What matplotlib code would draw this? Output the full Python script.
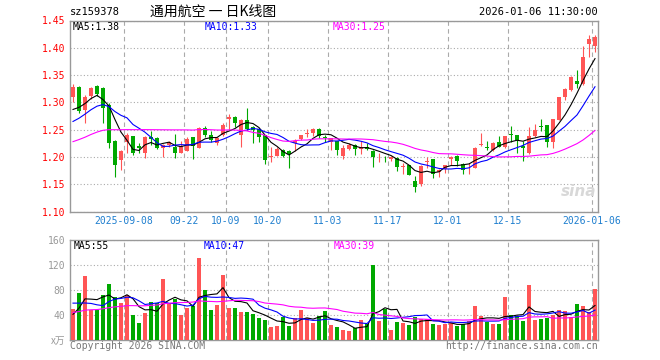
import matplotlib
matplotlib.use('Agg')
import matplotlib.pyplot as plt
import numpy as np
import pandas as pd

# ---------------- data ----------------
open_ = [1.310, 1.329, 1.286, 1.312, 1.330, 1.327, 1.295, 1.230, 1.194, 1.228,
         1.238, 1.220, 1.208, 1.236, 1.234, 1.217, 1.221, 1.219, 1.208, 1.211,
         1.236, 1.217, 1.253, 1.240, 1.225, 1.240, 1.269, 1.274, 1.241, 1.268,
         1.255, 1.252, 1.240, 1.1995, 1.202, 1.213, 1.211, 1.226, 1.232, 1.242,
         1.244, 1.251, 1.236, 1.228, 1.229, 1.202, 1.214, 1.222, 1.215, 1.218,
         1.211, 1.203, 1.195, 1.196, 1.198, 1.181, 1.185, 1.155, 1.150, 1.190,
         1.196, 1.173, 1.177, 1.197, 1.202, 1.187, 1.183, 1.180, 1.222, 1.218,
         1.212, 1.227, 1.218, 1.242, 1.240, 1.220, 1.208, 1.238, 1.256, 1.258,
         1.228, 1.268, 1.309, 1.322, 1.340, 1.333, 1.407, 1.403]
high = [1.334, 1.330, 1.313, 1.329, 1.331, 1.328, 1.299, 1.231, 1.213, 1.243,
        1.239, 1.225, 1.238, 1.248, 1.236, 1.223, 1.229, 1.242, 1.229, 1.236,
        1.237, 1.254, 1.257, 1.248, 1.236, 1.263, 1.279, 1.275, 1.269, 1.290,
        1.257, 1.253, 1.241, 1.219, 1.219, 1.214, 1.212, 1.233, 1.241, 1.252,
        1.253, 1.253, 1.241, 1.235, 1.230, 1.222, 1.225, 1.223, 1.229, 1.225,
        1.212, 1.208, 1.202, 1.202, 1.199, 1.188, 1.186, 1.165, 1.185, 1.199,
        1.197, 1.177, 1.186, 1.202, 1.203, 1.188, 1.188, 1.218, 1.243, 1.230,
        1.228, 1.238, 1.239, 1.257, 1.241, 1.230, 1.255, 1.261, 1.269, 1.259,
        1.270, 1.310, 1.326, 1.349, 1.360, 1.404, 1.423, 1.423]
low = [1.300, 1.281, 1.263, 1.307, 1.312, 1.263, 1.216, 1.164, 1.176, 1.207,
       1.203, 1.207, 1.198, 1.222, 1.215, 1.199, 1.219, 1.198, 1.207, 1.210,
       1.196, 1.216, 1.237, 1.228, 1.222, 1.238, 1.250, 1.255, 1.219, 1.249,
       1.226, 1.228, 1.187, 1.191, 1.201, 1.199, 1.179, 1.211, 1.231, 1.237,
       1.238, 1.234, 1.228, 1.213, 1.203, 1.197, 1.213, 1.203, 1.205, 1.213,
       1.182, 1.191, 1.190, 1.193, 1.175, 1.169, 1.166, 1.136, 1.147, 1.179,
       1.162, 1.163, 1.170, 1.185, 1.184, 1.168, 1.169, 1.179, 1.220, 1.212,
       1.210, 1.218, 1.216, 1.228, 1.207, 1.193, 1.206, 1.237, 1.248, 1.219,
       1.216, 1.267, 1.304, 1.321, 1.327, 1.332, 1.383, 1.393]
close = [1.329, 1.284, 1.310, 1.326, 1.315, 1.290, 1.226, 1.185, 1.211, 1.240,
         1.207, 1.216, 1.237, 1.232, 1.217, 1.222, 1.227, 1.208, 1.220, 1.233,
         1.220, 1.253, 1.240, 1.231, 1.234, 1.258, 1.274, 1.263, 1.268, 1.252,
         1.249, 1.237, 1.194, 1.202, 1.215, 1.202, 1.205, 1.229, 1.240, 1.244,
         1.252, 1.238, 1.235, 1.234, 1.213, 1.216, 1.222, 1.214, 1.219, 1.215,
         1.200, 1.204, 1.194, 1.200, 1.181, 1.183, 1.167, 1.144, 1.183, 1.192,
         1.169, 1.176, 1.185, 1.199, 1.192, 1.176, 1.184, 1.217, 1.224, 1.217,
         1.225, 1.219, 1.238, 1.240, 1.231, 1.216, 1.238, 1.249, 1.254, 1.228,
         1.269, 1.309, 1.325, 1.347, 1.334, 1.384, 1.416, 1.420]
volume = [50, 75, 102, 48, 48, 72, 90, 69, 59, 72,
          40, 27, 43, 61, 59, 98, 58, 66, 40, 51,
          54, 131, 80, 48, 56, 104, 51, 51, 45, 45,
          42, 35, 32, 21, 22, 37, 22, 35, 48, 35,
          27, 38, 46, 24, 21, 16, 14, 19, 32, 26,
          120, 30, 50, 16, 29, 27, 24, 37, 34, 34,
          26, 24, 26, 27, 22, 26, 30, 54, 38, 29,
          26, 26, 69, 40, 38, 30, 88, 32, 34, 35,
          40, 48, 46, 37, 58, 54, 45, 82]
# closes / volumes of the 29 sessions before the visible window (for moving averages)
pre_close = [1.170, 1.180, 1.175, 1.185, 1.190, 1.191,
             1.190, 1.210, 1.235, 1.210, 1.215, 1.235, 1.235, 1.220, 1.225,
             1.230, 1.210, 1.220, 1.235, 1.229,
             1.225, 1.235, 1.245, 1.250, 1.260,
             1.265, 1.275, 1.280, 1.286]
pre_volume = [30, 35, 28, 40, 32, 38, 30, 36, 36,
              40, 35, 42, 38, 45, 36, 40, 33, 38, 42, 36,
              75, 100, 55, 70, 85,
              25, 28, 50, 52]
tick_labels = ["2025-09-08", "09-22", "10-09", "10-20", "11-03",
               "11-17", "12-01", "12-15", "2026-01-06"]
tick_index = [9, 19, 26, 33, 43, 53, 63, 73, 87]
code = "sz159378"
title = "通用航空 一 日K线图"
stamp = "2026-01-06 11:30:00"

# ---------------- style ----------------
RED = '#ff5555'
GREEN = '#00a800'
GRID = '#aaaaaa'
BORDER = '#999999'
MONO = 'DejaVu Sans Mono'
CJK = ['Noto Sans CJK SC', 'DejaVu Sans']

n = len(close)
x = np.arange(n)
o = np.array(open_); c = np.array(close); h = np.array(high); l = np.array(low)
v = np.array(volume, dtype=float)
up = c >= o
cols = np.where(up, RED, GREEN)

cs = pd.Series(pre_close + close)
vs = pd.Series(pre_volume + volume, dtype=float)
k = len(pre_close)
ma = {p: cs.rolling(p).mean().values[k:] for p in (5, 10, 30)}
vma = {p: vs.rolling(p).mean().values[k:] for p in (5, 10, 30)}
ma_cols = {5: 'black', 10: '#0000ff', 30: '#ff00ff'}

W, H = 660, 360
fig = plt.figure(figsize=(W / 100, H / 100), dpi=100)
ax = fig.add_axes([70 / W, (H - 211.5) / H, 528 / W, 191 / H])
axv = fig.add_axes([70 / W, 20 / H, 528 / W, 100 / H])

# price candles
body = np.maximum(np.abs(c - o), 0.0007)
ax.vlines(x, l, h, colors=cols, lw=0.8, zorder=3)
ax.bar(x, body, bottom=np.minimum(o, c), width=0.8, color=cols, lw=0, zorder=4)
for p in (5, 10, 30):
    ax.plot(x, ma[p], color=ma_cols[p], lw=0.8, zorder=5)

ax.set_xlim(-0.5, n - 0.5)
ax.set_ylim(1.10, 1.45)
yt = np.round(np.arange(1.10, 1.451, 0.05), 2)
ax.set_yticks(yt)
ax.set_yticklabels([f"{t:.2f}" for t in yt], color='#ff0000', fontfamily=MONO, fontsize=7)
ax.set_xticks(np.array(tick_index) - 0.5)
ax.set_xticklabels(tick_labels, color='#1f7fcf', fontfamily=MONO, fontsize=7)
ax.tick_params(length=0, pad=3.5)
ax.yaxis.grid(True, ls=(0, (1, 2)), color=GRID, lw=0.8)
ax.xaxis.grid(True, ls=(0, (4, 3)), color=GRID, lw=0.8)
ax.set_axisbelow(True)

# volume
axv.bar(x, v, width=0.8, color=cols, lw=0, zorder=3)
for p in (5, 10, 30):
    axv.plot(x, vma[p], color=ma_cols[p], lw=0.8, zorder=5)
axv.set_xlim(-0.5, n - 0.5)
axv.set_ylim(0, 160)
axv.set_yticks([0, 40, 80, 120, 160])
axv.set_yticklabels(['x万', '40', '80', '120', '160'], color=BORDER, fontfamily=MONO, fontsize=7)
axv.get_yticklabels()[0].set_fontfamily(CJK)
axv.set_xticks(np.array(tick_index) - 0.5)
axv.set_xticklabels([])
axv.tick_params(length=0, pad=3.5)
axv.yaxis.grid(True, ls=(0, (1, 2)), color=GRID, lw=0.8)
axv.xaxis.grid(True, ls=(0, (4, 3)), color=GRID, lw=0.8)
axv.set_axisbelow(True)

for a in (ax, axv):
    for s in a.spines.values():
        s.set_color(BORDER)
        s.set_linewidth(1.0)

# legends
def ftxt(px, py, s, **kw):
    fig.text(px / W, 1 - py / H, s, va='center', **kw)

ftxt(73, 27, f"MA5:{ma[5][-1]:.2f}", color='black', fontfamily=MONO, fontsize=7)
ftxt(205, 27, f"MA10:{ma[10][-1]:.2f}", color='#0000ff', fontfamily=MONO, fontsize=7)
ftxt(333, 27, f"MA30:{ma[30][-1]:.2f}", color='#ff00ff', fontfamily=MONO, fontsize=7)
ftxt(74, 246, f"MA5:{int(vma[5][-1])}", color='black', fontfamily=MONO, fontsize=7)
ftxt(204, 246, f"MA10:{int(vma[10][-1])}", color='#0000ff', fontfamily=MONO, fontsize=7)
ftxt(334, 246, f"MA30:{int(vma[30][-1])}", color='#ff00ff', fontfamily=MONO, fontsize=7)

# header / footer
ftxt(70, 12, code, color='black', fontfamily=MONO, fontsize=7.5)
ftxt(150, 12, title, color='black', fontfamily=CJK, fontsize=10)
ftxt(598, 12, stamp, color='black', fontfamily=MONO, fontsize=7.5, ha='right')
ftxt(70, 346, "Copyright 2026 SINA.COM", color='#777777', fontfamily=MONO, fontsize=7)
ftxt(598, 346, "http://finance.sina.com.cn", color='#777777', fontfamily=MONO, fontsize=7, ha='right')
ftxt(579, 192, "sina", color='#d8d8d8', fontsize=11, fontweight='bold', style='italic', ha='center')

fig.savefig('out.png', dpi=100)
